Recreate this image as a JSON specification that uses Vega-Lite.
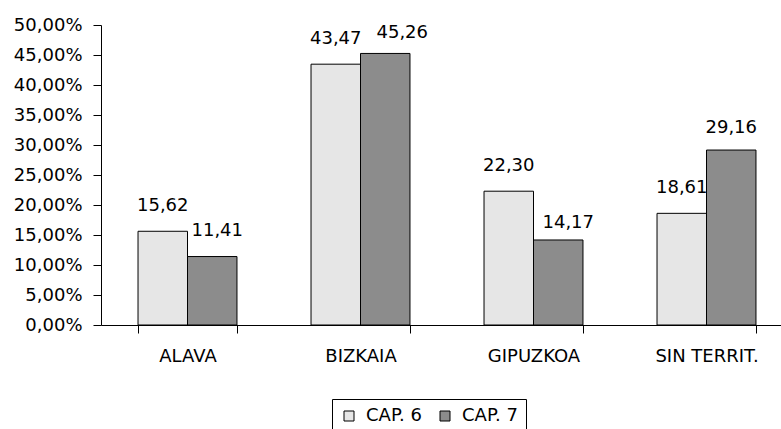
{
  "$schema": "https://vega.github.io/schema/vega-lite/v6.json",
  "width": 692,
  "height": 300,
  "autosize": {"type": "none"},
  "padding": {"left": 101, "top": 25, "right": 0, "bottom": 104},
  "background": "white",
  "config": {
    "view": {"stroke": null},
    "font": "DejaVu Sans",
    "locale": {"number": {"decimal": ",", "thousands": ".", "grouping": [3], "currency": ["", " €"]}}
  },
  "data": {
    "values": [
      {"territorio": "ALAVA", "capitulo": "CAP. 6", "valor": 15.62},
      {"territorio": "ALAVA", "capitulo": "CAP. 7", "valor": 11.41},
      {"territorio": "BIZKAIA", "capitulo": "CAP. 6", "valor": 43.47},
      {"territorio": "BIZKAIA", "capitulo": "CAP. 7", "valor": 45.26},
      {"territorio": "GIPUZKOA", "capitulo": "CAP. 6", "valor": 22.30},
      {"territorio": "GIPUZKOA", "capitulo": "CAP. 7", "valor": 14.17},
      {"territorio": "SIN TERRIT.", "capitulo": "CAP. 6", "valor": 18.61},
      {"territorio": "SIN TERRIT.", "capitulo": "CAP. 7", "valor": 29.16}
    ]
  },
  "encoding": {
    "x": {
      "field": "territorio",
      "type": "nominal",
      "sort": null,
      "scale": {"paddingInner": 0.428, "paddingOuter": 0.214},
      "axis": {
        "title": null,
        "labelAngle": 0,
        "labelFont": "DejaVu Sans",
        "labelFontSize": 18,
        "labelColor": "#000",
        "labelPadding": 14,
        "tickBand": "extent",
        "tickSize": 8,
        "tickColor": "#000",
        "domainColor": "#000"
      }
    },
    "xOffset": {"field": "capitulo", "type": "nominal", "scale": {"paddingInner": 0, "paddingOuter": 0}},
    "y": {
      "field": "valor",
      "type": "quantitative",
      "scale": {"domain": [0, 50], "nice": false},
      "axis": {
        "title": null,
        "grid": false,
        "values": [0, 5, 10, 15, 20, 25, 30, 35, 40, 45, 50],
        "labelExpr": "replace(format(datum.value, '.2f'), '.', ',') + '%'",
        "labelFont": "DejaVu Sans",
        "labelFontSize": 18,
        "labelColor": "#000",
        "labelPadding": 11,
        "tickSize": 8,
        "tickColor": "#000",
        "domainColor": "#000"
      }
    }
  },
  "layer": [
    {
      "mark": {"type": "bar", "stroke": "#000", "strokeWidth": 1},
      "encoding": {
        "fill": {
          "field": "capitulo",
          "type": "nominal",
          "scale": {"domain": ["CAP. 6", "CAP. 7"], "range": ["#e6e6e6", "#8c8c8c"]},
          "legend": {
            "title": null,
            "orient": "none",
            "legendX": 231,
            "legendY": 374,
            "direction": "horizontal",
            "symbolType": "square",
            "symbolSize": 100,
            "symbolStrokeColor": "#000",
            "symbolStrokeWidth": 1,
            "labelFont": "DejaVu Sans",
            "labelFontSize": 18,
            "labelColor": "#000",
            "labelOffset": 8,
            "columnPadding": 14,
            "padding": 8,
            "strokeColor": "#000",
            "fillColor": "white"
          }
        }
      }
    },
    {
      "mark": {
        "type": "text",
        "baseline": "alphabetic",
        "font": "DejaVu Sans",
        "fontSize": 18,
        "color": "#000",
        "dx": {"expr": "datum.capitulo == 'CAP. 7' ? (datum.territorio == 'ALAVA' ? 5 : datum.territorio == 'BIZKAIA' ? 17 : datum.territorio == 'GIPUZKOA' ? 10 : 0) : 0"},
        "dy": {"expr": "datum.capitulo == 'CAP. 7' ? (datum.territorio == 'ALAVA' ? -21 : datum.territorio == 'BIZKAIA' ? -15 : datum.territorio == 'GIPUZKOA' ? -12 : -17) : -20"}
      },
      "encoding": {
        "text": {"field": "valor", "type": "quantitative", "format": ".2f"}
      }
    }
  ]
}
